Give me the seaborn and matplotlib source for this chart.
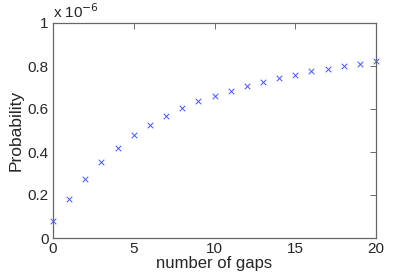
import seaborn as sns
import matplotlib.pyplot as plt
import numpy as np
import pandas as pd
from matplotlib.ticker import FuncFormatter

# probability vs number of gaps (in units of 1e-6)
gaps = list(range(21))
prob_e6 = [0.079, 0.180, 0.273, 0.352, 0.420, 0.478, 0.526, 0.567, 0.603, 0.636,
           0.660, 0.686, 0.707, 0.727, 0.744, 0.760, 0.775, 0.787, 0.800, 0.810, 0.822]

datos = pd.DataFrame({"gaps": gaps, "prob": np.array(prob_e6) * 1e-6})

sns.set_style("white")
plt.rcParams['font.family'] = ['Liberation Sans', 'DejaVu Sans']

fig = plt.figure(figsize=(4.15, 2.76), dpi=100)
ax = fig.add_axes([53 / 415, 1 - 238 / 276, 323 / 415, 215 / 276])

sns.scatterplot(x="gaps", y="prob", data=datos, marker="x", color="#4455ff",
                s=16, linewidth=0.7, ax=ax, legend=False, clip_on=False)

ax.set_xlim(0, 20)
ax.set_ylim(0, 1e-6)
ax.set_xticks([0, 5, 10, 15, 20])
ax.set_yticks(np.arange(0, 1.01, 0.2) * 1e-6)
ax.yaxis.set_major_formatter(FuncFormatter(lambda v, p: "%g" % round(v * 1e6, 3)))
ax.tick_params(direction="in", length=4, width=0.6, color="#555555",
               top=True, right=True, labelsize=11, pad=3)
for s in ax.spines.values():
    s.set_color("#666666")
    s.set_linewidth(0.9)

ax.set_xlabel("number of gaps", fontsize=12, labelpad=0)
ax.set_ylabel("Probability", fontsize=12.5, labelpad=3)
ax.text(0, 1.01, r"x 10$^{-6}$", transform=ax.transAxes, fontsize=11,
        ha="left", va="bottom")

fig.savefig("out.png", dpi=100)
